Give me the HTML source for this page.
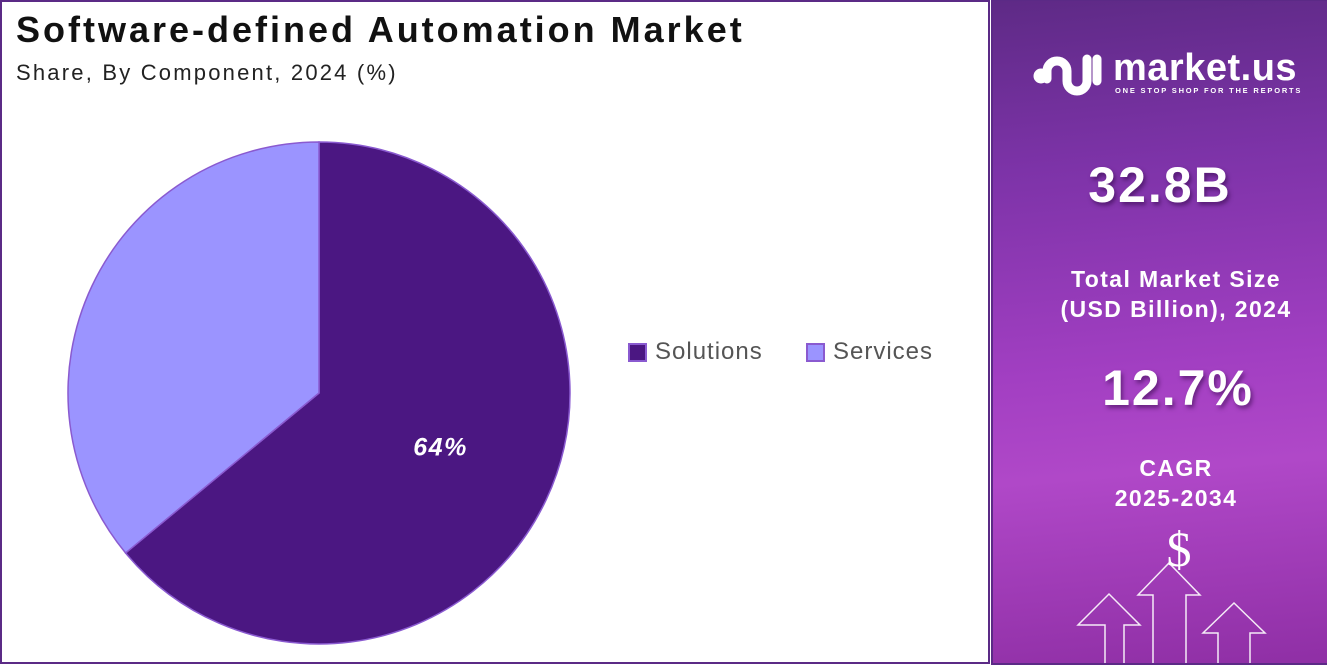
<!DOCTYPE html>
<html><head><meta charset="utf-8"><style>
body{margin:0;width:1327px;height:664px;overflow:hidden;background:#fff;font-family:"Liberation Sans",sans-serif;position:relative}
#left{position:absolute;left:0;top:0;width:986px;height:660px;border:2px solid #5b2a86;}
#title{position:absolute;left:16px;top:9px;font-size:36px;font-weight:bold;color:#111;letter-spacing:3px}
#sub{position:absolute;left:16px;top:60px;font-size:22px;color:#222;letter-spacing:2.2px}
#right{position:absolute;left:991px;top:0;width:334px;height:662px;border:1px solid #5b2a86;border-width:1px 2px 2px 2px;background:linear-gradient(175deg,#5e2a86 0%,#7d33a8 25%,#a23fc2 55%,#b048c8 70%,#8f2fa5 100%);color:#fff;text-align:center;overflow:hidden}
.big{position:absolute;left:18px;width:100%;font-weight:bold;font-size:50px;letter-spacing:2px;text-shadow:2px 3px 4px rgba(40,0,60,.5)}
.mid{position:absolute;left:16px;width:100%;font-weight:bold;font-size:23px;line-height:30px;letter-spacing:1.4px}
.leg{position:absolute;top:338px;font-size:24px;color:#555;display:flex;align-items:center;letter-spacing:1px}
.sw{width:15px;height:15px;border:2px solid #8a5ad0;margin-right:8px}
</style></head><body>
<div id="left"></div>
<div id="title">Software-defined Automation Market</div>
<div id="sub">Share, By Component, 2024 (%)</div>
<svg id="pie" width="660" height="664" style="position:absolute;left:0;top:0"></svg>
<div class="leg" style="left:628px"><div class="sw" style="background:#4b1782"></div>Solutions</div>
<div class="leg" style="left:806px"><div class="sw" style="background:#9b94ff"></div>Services</div>
<div id="right">
<svg width="334" height="664" style="position:absolute;left:0;top:0">
<g fill="none" stroke="#fff" stroke-width="9" stroke-linecap="round">
<circle cx="48" cy="75" r="3" fill="#fff"/>
<path d="M54 78 v-8 a10 10 0 0 1 20 0 v10 a10 10 0 0 0 20 0 v-22"/>
<path d="M104 58 v22"/>
</g>
<text x="140" y="30" font-size="50" fill="#fff" font-family="Liberation Serif" text-anchor="middle" transform="translate(46,535)">$</text>
<g fill="none" stroke="#fff" stroke-width="1.5" opacity="0.9">
<path d="M112 664 v-40 h-27 l31-31 l31 31 h-16 v40"/>
<path d="M160 664 v-70 h-15 l31-32 l31 32 h-14 v70"/>
<path d="M225 664 v-32 h-15 l31-30 l31 30 h-15 v32"/>
</g>
</svg>
<div style="position:absolute;left:120px;top:46px;font-size:38px;font-weight:bold;text-align:left;letter-spacing:0.5px">market.us</div>
<div style="position:absolute;left:122px;top:85px;font-size:7.5px;font-weight:bold;letter-spacing:1.8px;text-align:left">ONE STOP SHOP FOR THE REPORTS</div>
<div class="big" style="top:155px;left:0">32.8B</div>
<div class="mid" style="top:263px">Total Market Size<br>(USD Billion), 2024</div>
<div class="big" style="top:358px">12.7%</div>
<div class="mid" style="top:452px">CAGR<br>2025-2034</div>
</div>
<script>
const categories=["Solutions","Services"];
const values=[64,36];
const labels=["64%",""];
const colors=["#4b1782","#9b94ff"];
const svg=document.getElementById('pie');
const cx=319,cy=393,r=251;
const total=values.reduce((a,b)=>a+b,0);
let ang=0;
function pt(a,rr){return [cx+rr*Math.sin(a),cy-rr*Math.cos(a)];}
values.forEach((v,i)=>{
 const a0=ang,a1=ang+v/total*2*Math.PI;ang=a1;
 const p0=pt(a0,r),p1=pt(a1,r);
 const large=(a1-a0)>Math.PI?1:0;
 const path=document.createElementNS('http://www.w3.org/2000/svg','path');
 path.setAttribute('d',`M${cx},${cy} L${p0[0]},${p0[1]} A${r},${r} 0 ${large} 1 ${p1[0]},${p1[1]} Z`);
 path.setAttribute('fill',colors[i]);
 path.setAttribute('stroke','#8a5ad0');
 path.setAttribute('stroke-width','1.5');
 
 
 svg.appendChild(path);
 if(labels[i]){
  const m=(a0+a1)/2,lp=pt(m,0.5*r);
  const t=document.createElementNS('http://www.w3.org/2000/svg','text');
  t.setAttribute('x',lp[0]+8);t.setAttribute('y',lp[1]+9);
  t.setAttribute('fill','#fff');t.setAttribute('font-size','25');t.setAttribute('font-weight','bold');t.setAttribute('font-style','italic');
  t.setAttribute('letter-spacing','1.5');
  t.setAttribute('text-anchor','middle');t.setAttribute('font-family','Liberation Sans, sans-serif');
  
  
  t.textContent=labels[i];
  svg.appendChild(t);
 }
});
</script>
</body></html>
